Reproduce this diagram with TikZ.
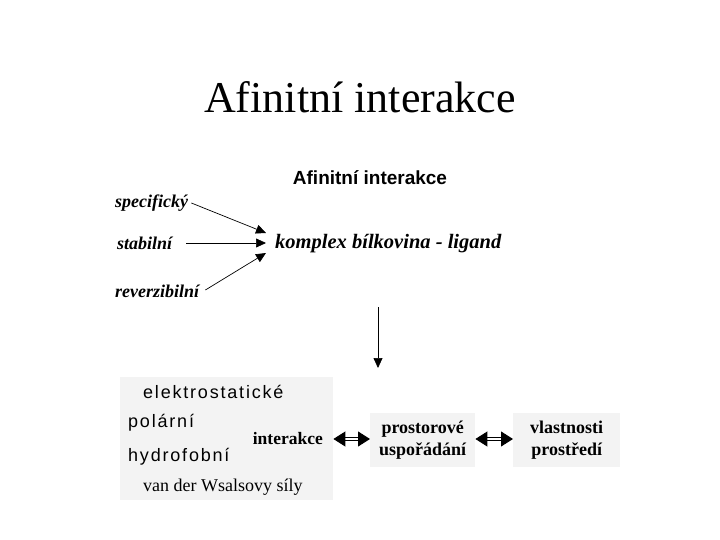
\documentclass[tikz,border=0pt]{standalone}
\usepackage{fontspec}
\setmainfont{Liberation Serif}
\setsansfont{Liberation Sans}
\usetikzlibrary{arrows.meta}
\definecolor{boxgray}{HTML}{F3F3F3}
\tikzset{
  lbl/.style={font=\fontsize{18}{20}\selectfont\bfseries\itshape, inner sep=0pt},
  arr/.style={-{Triangle[length=10pt,width=9pt]}, line width=0.7pt},
  boxg/.style={fill=boxgray, draw=none, inner sep=0pt},
  sp/.style={font=\fontsize{18}{20}\selectfont\sffamily\addfontfeature{LetterSpace=10}, inner sep=0pt, anchor=west},
  bt/.style={font=\fontsize{18}{22}\selectfont\bfseries, align=center, inner sep=0pt},
  dbl/.style={{Triangle[length=12pt,width=15pt]}-{Triangle[length=12pt,width=15pt]}, double, double distance=2.5pt, line width=1pt}
}
\begin{document}
\begin{tikzpicture}[x=1pt,y=-1pt]
\useasboundingbox (0,0) rectangle (720,540);
\node[font=\fontsize{44}{48}\selectfont, inner sep=0pt] (title) at (360,97) {Afinitní interakce};
\node[font=\fontsize{19}{21}\selectfont\sffamily\bfseries, inner sep=0pt] (sub) at (370,178) {Afinitní interakce};
\node[lbl, anchor=west] (spec) at (115,203) {specifický};
\node[lbl, anchor=west] (stab) at (117,243) {stabilní};
\node[lbl, anchor=west] (rev) at (115,291) {reverzibilní};
\node[font=\fontsize{20.5}{22}\selectfont\bfseries\itshape, inner sep=0pt, anchor=west] (kompl) at (275,244) {komplex bílkovina - ligand};
\coordinate (k1) at (266,233);
\coordinate (k2) at (266,243);
\coordinate (k3) at (266,253);
\draw[arr] (spec.east) ++(3,0) -- (k1);
\draw[arr] (stab.east) ++(14,0) -- (k2);
\draw[arr] (rev.east) ++(6,-1) -- (k3);
\coordinate (vt) at (378,307);
\coordinate (vb) at (378,368);
\draw[arr] (vt) -- (vb);
% left box
\node[boxg, minimum width=213pt, minimum height=123pt, anchor=north west] (grp) at (120,377) {};
\node[sp] (el) at (143,392) {elektrostatické};
\node[sp] (pol) at (128,423) {polární};
\node[sp] (hyd) at (128,457) {hydrofobní};
\node[font=\fontsize{18}{20}\selectfont, inner sep=0pt, anchor=west] (vdw) at (143,487) {van der Wsalsovy síly};
\node[font=\fontsize{17.5}{19}\selectfont\bfseries, inner sep=0pt, anchor=east] (inter) at (323,439) {interakce};
% right boxes
\node[boxg, minimum width=105pt, minimum height=54pt, anchor=north west] (prost) at (370,413) {};
\node[bt] at (prost.center) {prostorové\\uspořádání};
\node[boxg, minimum width=107pt, minimum height=54pt, anchor=north west] (vlast) at (513,413) {};
\node[bt] at (vlast.center) {vlastnosti\\prostředí};
\draw[dbl] (grp.east |- inter) -- (prost.west |- inter);
\draw[dbl] (prost.east |- inter) -- (vlast.west |- inter);
\end{tikzpicture}
\end{document}
